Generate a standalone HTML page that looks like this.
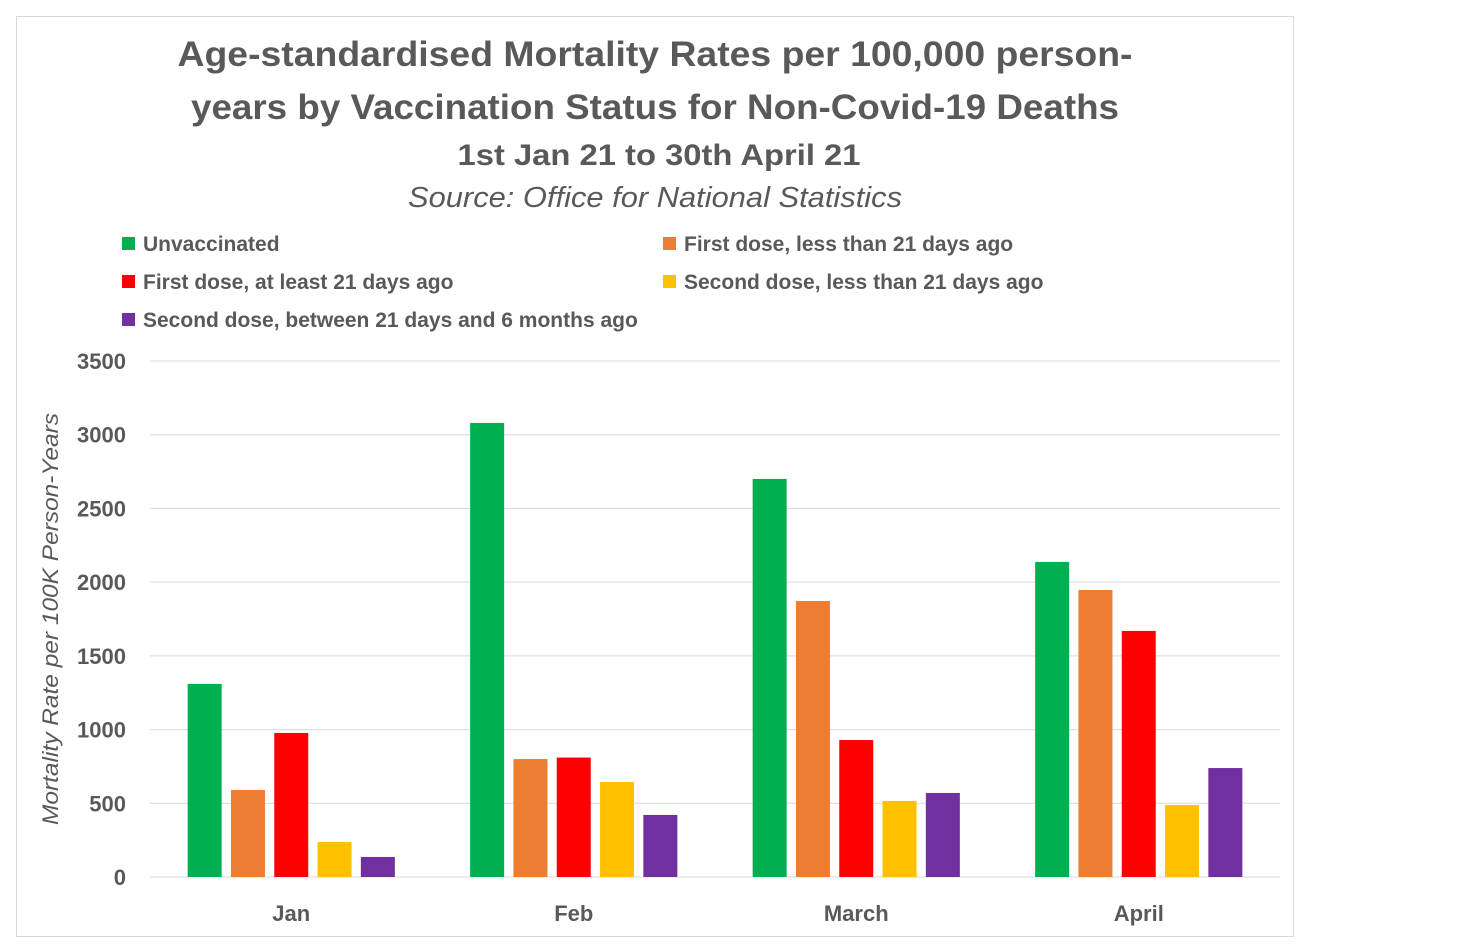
<!DOCTYPE html>
<html><head><meta charset="utf-8"><style>
html,body{margin:0;padding:0;background:#fff;}
svg{display:block;font-family:"Liberation Sans",sans-serif;}
</style></head><body>
<svg id="chart" width="1478" height="948" viewBox="0 0 1478 948">
<rect x="16.5" y="16.5" width="1277" height="920" fill="#fff" stroke="#d9d9d9"/>
<g fill="#595959" font-weight="bold" text-anchor="middle">
<text x="655" y="66" font-size="35" textLength="955" lengthAdjust="spacingAndGlyphs">Age-standardised Mortality Rates per 100,000 person-</text>
<text x="655" y="119" font-size="35" textLength="928" lengthAdjust="spacingAndGlyphs">years by Vaccination Status for Non-Covid-19 Deaths</text>
<text x="659" y="165" font-size="30" textLength="403" lengthAdjust="spacingAndGlyphs">1st Jan 21 to 30th April 21</text>
<text x="655" y="207" font-size="29" font-weight="normal" font-style="italic" textLength="494" lengthAdjust="spacingAndGlyphs">Source: Office for National Statistics</text>
</g>
<g id="legend" font-size="21" fill="#595959" font-weight="bold"></g>
<g id="grid"></g>
<g id="bars"></g>
<g id="axes" font-size="22" font-weight="bold" fill="#595959"></g>
<text transform="translate(58,619) rotate(-90)" text-anchor="middle" font-size="22" font-style="italic" fill="#595959" textLength="412" lengthAdjust="spacingAndGlyphs">Mortality Rate per 100K Person-Years</text>
</svg>
<script>
const categories = ["Jan","Feb","March","April"];
const seriesNames = ["Unvaccinated","First dose, less than 21 days ago","First dose, at least 21 days ago","Second dose, less than 21 days ago","Second dose, between 21 days and 6 months ago"];
const seriesColors = ["#00b050","#ed7d31","#ff0000","#ffc000","#7030a0"];
const unvaccinated = [1310, 3080, 2700, 2137];
const firstDoseLess21 = [590, 800, 1872, 1947];
const firstDoseAtLeast21 = [977, 810, 929, 1669];
const secondDoseLess21 = [237, 644, 516, 488];
const secondDose21to6m = [136, 421, 570, 739];
const series = [unvaccinated, firstDoseLess21, firstDoseAtLeast21, secondDoseLess21, secondDose21to6m];
const yTicks = [0,500,1000,1500,2000,2500,3000,3500];

const NS="http://www.w3.org/2000/svg";
const X0=150, X1=1280, Y0=877, Y1=361, YMAX=3500;
const y = v => Y0 - v/YMAX*(Y0-Y1);
const groupW=(X1-X0)/categories.length;
const xc = i => X0 + groupW*(i+0.5);
const barW=34, barStep=43.3;
function mk(tag, attrs, parent){const e=document.createElementNS(NS,tag);for(const k in attrs)e.setAttribute(k,attrs[k]);parent.appendChild(e);return e;}

const grid=document.getElementById('grid'), axes=document.getElementById('axes'), bars=document.getElementById('bars'), legend=document.getElementById('legend');
yTicks.forEach(t=>{
  const l=mk('line',{x1:X0,x2:X1,y1:y(t),y2:y(t),stroke:'#d9d9d9','stroke-width':1},grid);
  
  
  const tx=mk('text',{x:126,y:y(t)+8,'text-anchor':'end'},axes);
  tx.textContent=t;
  
  
});
categories.forEach((c,i)=>{
  const tx=mk('text',{x:xc(i),y:921,'text-anchor':'middle'},axes);
  tx.textContent=c;
  
  
  series.forEach((s,j)=>{
    const cx=xc(i)+(j-2)*barStep;
    const r=mk('rect',{x:cx-barW/2,y:y(s[i]),width:barW,height:Y0-y(s[i]),fill:seriesColors[j]},bars);
    
    
  });
});
const legPos=[[122,244],[663,244],[122,282],[663,282],[122,320]];
seriesNames.forEach((n,j)=>{
  const g=mk('g',{},legend);
  
  
  mk('rect',{x:legPos[j][0],y:legPos[j][1]-7,width:13,height:13,fill:seriesColors[j]},g);
  const t=mk('text',{x:legPos[j][0]+21,y:legPos[j][1]+7},g);
  t.textContent=n;
});
</script>
</body></html>
